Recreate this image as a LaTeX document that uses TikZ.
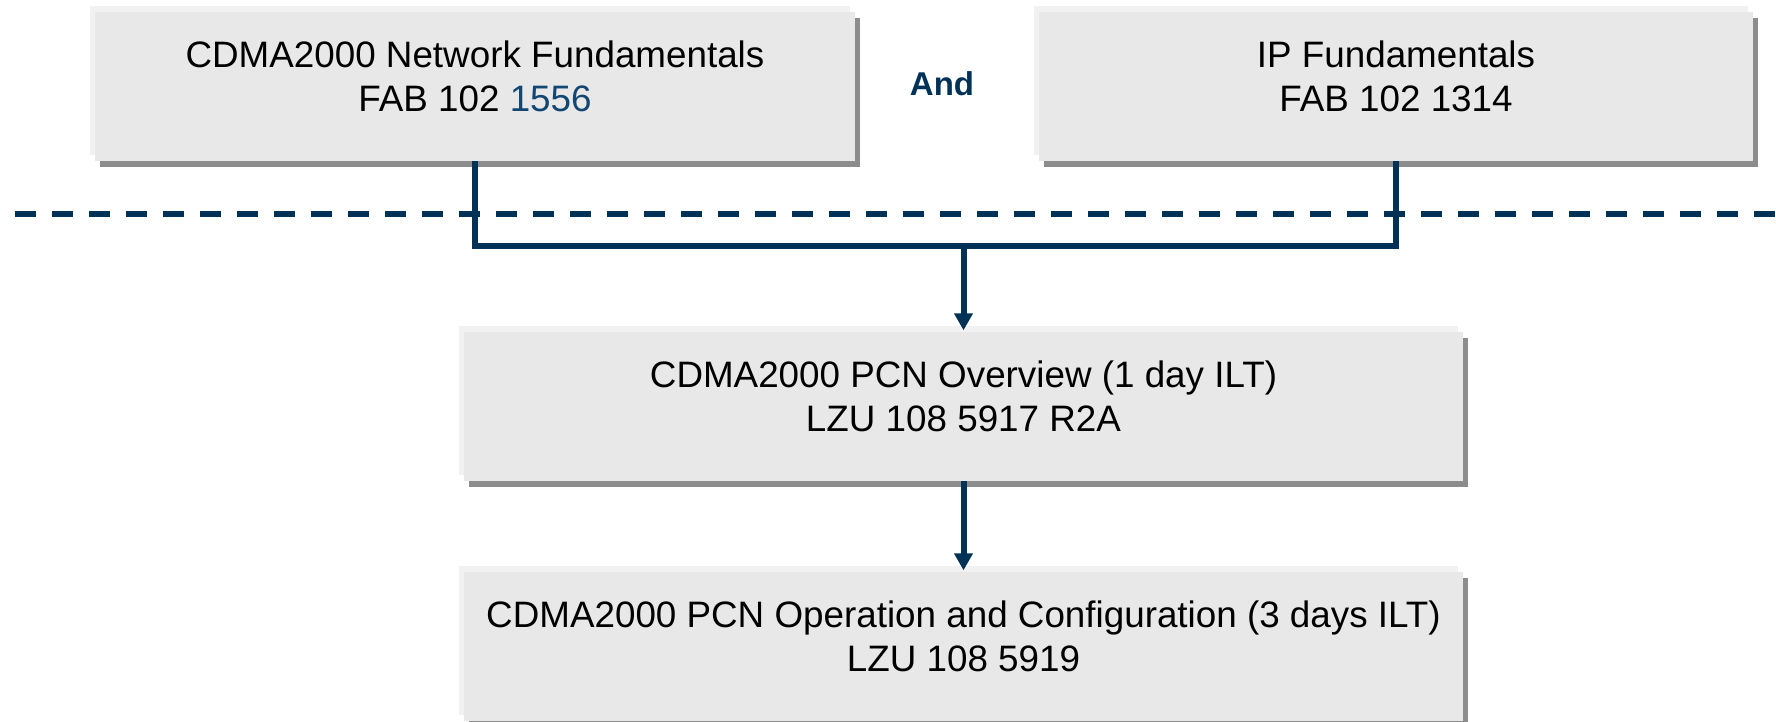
\documentclass[tikz,border=0pt]{standalone}
\usepackage{fontspec}
\setmainfont{Liberation Sans}
\usetikzlibrary{shadows,arrows.meta}
\definecolor{navy}{RGB}{0,50,88}
\definecolor{numblue}{RGB}{18,70,115}
\definecolor{boxfill}{RGB}{232,232,232}
\definecolor{boxlight}{RGB}{241,241,241}
\definecolor{boxshade}{RGB}{140,140,140}
\newcommand{\topstrut}{\rule{0pt}{30pt}}
\newcommand{\botstrut}{\rule[-23.6pt]{0pt}{0pt}}
\tikzset{
  coursebox/.style={
    rectangle, fill=boxfill, inner sep=0pt, minimum height=149pt,
    align=center, font=\fontsize{36.8}{44}\selectfont,
    general shadow={fill=boxlight, shadow xshift=-5pt, shadow yshift=6pt},
    general shadow={fill=boxshade, shadow xshift=5pt, shadow yshift=-6pt}
  },
  link/.style={draw=navy, line width=6pt, line join=miter},
  linkarrow/.style={link, -{Triangle[width=18pt,length=17pt]}},
  sepline/.style={draw=navy, line width=6pt, dash pattern=on 21pt off 16pt, dash phase=22pt}
}
\begin{document}
\begin{tikzpicture}[x=1pt,y=-1pt]
\useasboundingbox (0,0) rectangle (1776,722);
\draw[sepline] (0,214) -- (1776,214);
\node[coursebox, minimum width=760pt] (b1) at (475,86.5)
  {\topstrut CDMA2000 Network Fundamentals\\FAB 102 \textcolor{numblue}{1556}\botstrut};
\node[coursebox, minimum width=714pt] (b2) at (1396,86.5)
  {\topstrut IP Fundamentals\\FAB 102 1314\botstrut};
\node[coursebox, minimum width=999pt] (b3) at (963.5,406.5)
  {\topstrut CDMA2000 PCN Overview (1 day ILT)\\LZU 108 5917 R2A\botstrut};
\node[coursebox, minimum width=999pt] (b4) at (963.5,646.5)
  {\topstrut CDMA2000 PCN Operation and Configuration (3 days ILT)\\LZU 108 5919\botstrut};
\node[anchor=base, text=navy, font=\bfseries\fontsize{33}{40}\selectfont] (and) at (942,96) {And};
\coordinate (j) at (963.5,246);
\draw[link] (b1.south) -- (b1.south |- j) -- (b2.south |- j) -- (b2.south);
\draw[linkarrow] (j) -- ([yshift=1.5pt]b3.north);
\draw[linkarrow] (b3.south) -- ([yshift=1.5pt]b4.north);
\end{tikzpicture}
\end{document}
